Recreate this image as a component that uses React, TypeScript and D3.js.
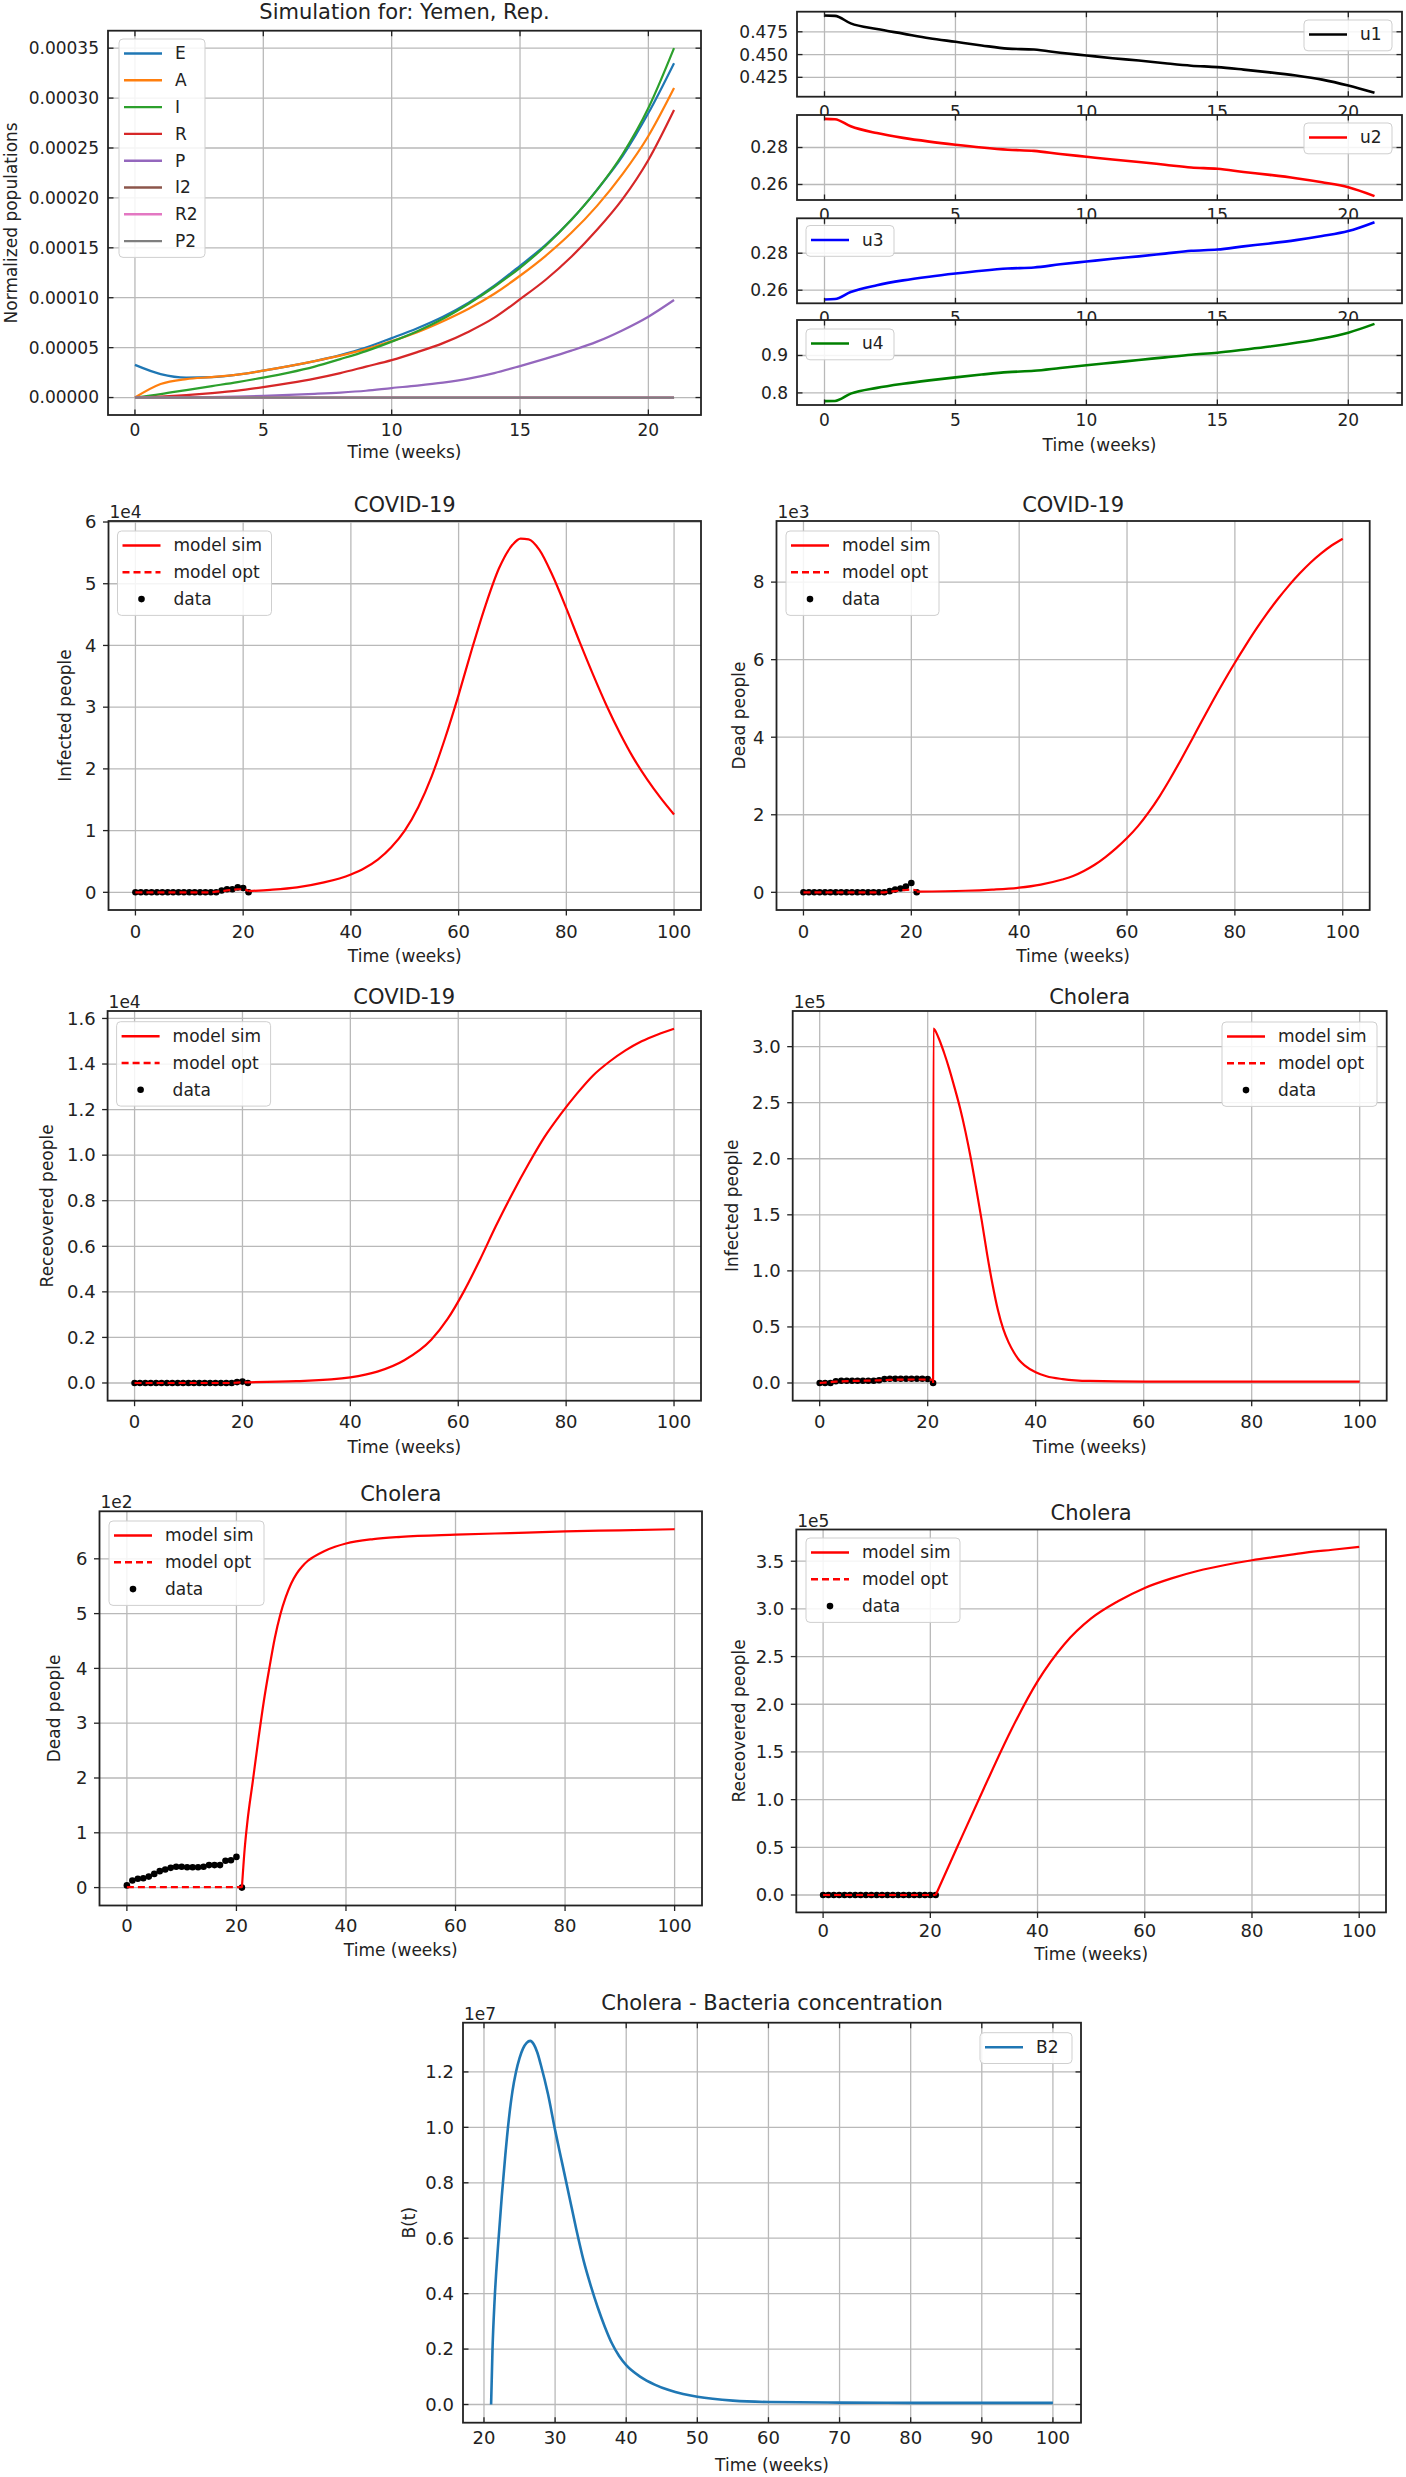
import React from "react";
import * as d3 from "d3";

// ---------------- DATA ----------------
const weeks = [0, 1, 2, 3, 4, 5, 6, 7, 8, 9, 10, 11, 12, 13, 14, 15, 16, 17, 18, 19, 20, 21];

// Panel 1: normalized populations (Yemen)
const popNames = ["E", "A", "I", "R", "P", "I2", "R2", "P2"];
const popColors = ["#1f77b4", "#ff7f0e", "#2ca02c", "#d62728", "#9467bd", "#8c564b", "#e377c2", "#7f7f7f"];
const popE = [3.27e-5, 2.35e-5, 2.0e-5, 2.05e-5, 2.3e-5, 2.7e-5, 3.15e-5, 3.65e-5, 4.25e-5, 5.0e-5, 5.95e-5, 6.95e-5, 8.1e-5, 9.5e-5, 11.2e-5, 13.2e-5, 15.3e-5, 17.8e-5, 20.8e-5, 24.2e-5, 28.5e-5, 33.5e-5];
const popA = [0, 1.35e-5, 1.85e-5, 2.05e-5, 2.3e-5, 2.7e-5, 3.15e-5, 3.65e-5, 4.2e-5, 4.85e-5, 5.65e-5, 6.55e-5, 7.65e-5, 8.9e-5, 10.4e-5, 12.2e-5, 14.2e-5, 16.5e-5, 19.2e-5, 22.4e-5, 26.2e-5, 31.0e-5];
const popI = [0, 0.35e-5, 0.75e-5, 1.15e-5, 1.55e-5, 2.0e-5, 2.5e-5, 3.1e-5, 3.85e-5, 4.65e-5, 5.6e-5, 6.65e-5, 7.9e-5, 9.4e-5, 11.1e-5, 13.0e-5, 15.2e-5, 17.8e-5, 20.8e-5, 24.4e-5, 29.0e-5, 35.0e-5];
const popR = [0, 0.1e-5, 0.25e-5, 0.45e-5, 0.7e-5, 1.05e-5, 1.45e-5, 1.9e-5, 2.45e-5, 3.1e-5, 3.75e-5, 4.55e-5, 5.45e-5, 6.6e-5, 8.0e-5, 9.85e-5, 11.8e-5, 14.1e-5, 16.8e-5, 19.9e-5, 23.8e-5, 28.8e-5];
const popP = [0, 0.005e-5, 0.02e-5, 0.05e-5, 0.1e-5, 0.17e-5, 0.26e-5, 0.37e-5, 0.5e-5, 0.68e-5, 0.95e-5, 1.2e-5, 1.5e-5, 1.9e-5, 2.45e-5, 3.15e-5, 3.9e-5, 4.7e-5, 5.6e-5, 6.75e-5, 8.1e-5, 9.77e-5];
const popI2 = [0, 0, 0, 0, 0, 0, 0, 0, 0, 0, 0, 0, 0, 0, 0, 0, 0, 0, 0, 0, 0, 0];
const popR2 = [0, 0, 0, 0, 0, 0, 0, 0, 0, 0, 0, 0, 0, 0, 0, 0, 0, 0, 0, 0, 0, 0];
const popP2 = [0, 0, 0, 0, 0, 0, 0, 0, 0, 0, 0, 0, 0, 0, 0, 0, 0, 0, 0, 0, 0, 0];
const popTicksY = [0, 0.00005, 0.0001, 0.00015, 0.0002, 0.00025, 0.0003, 0.00035];
const shortTicksX = [0, 5, 10, 15, 20];

// Panel 2: controls u1..u4
const uT = [0, 0.4, 1, 2, 3, 4, 5, 6, 7, 8, 9, 10, 11, 12, 13, 14, 15, 16, 17, 18, 19, 20, 21];
const u1 = [0.4928, 0.4925, 0.4842, 0.478, 0.473, 0.468, 0.464, 0.46, 0.4565, 0.4555, 0.452, 0.449, 0.446, 0.4435, 0.4405, 0.4378, 0.4362, 0.4335, 0.4305, 0.427, 0.4225, 0.416, 0.408];
const u2 = [0.2955, 0.2953, 0.2915, 0.2878, 0.2852, 0.2832, 0.2815, 0.28, 0.2788, 0.2782, 0.2765, 0.275, 0.2735, 0.2722, 0.2707, 0.2692, 0.2685, 0.2668, 0.2652, 0.2634, 0.2612, 0.2585, 0.2537];
const u3 = [0.255, 0.2552, 0.259, 0.2627, 0.2653, 0.2673, 0.269, 0.2705, 0.2717, 0.2723, 0.274, 0.2755, 0.277, 0.2783, 0.2798, 0.2813, 0.282, 0.2837, 0.2853, 0.2871, 0.2893, 0.292, 0.2968];
const u4 = [0.778, 0.7785, 0.798, 0.8135, 0.8245, 0.8335, 0.8415, 0.849, 0.8555, 0.859, 0.8665, 0.874, 0.881, 0.888, 0.895, 0.902, 0.9075, 0.9155, 0.924, 0.934, 0.9455, 0.961, 0.9845];
const u1Ticks = [0.425, 0.45, 0.475];
const u2Ticks = [0.26, 0.28];
const u3Ticks = [0.26, 0.28];
const u4Ticks = [0.8, 0.9];

// Long-horizon axes
const longTicksX = [0, 20, 40, 60, 80, 100];
const bactTicksX = [20, 30, 40, 50, 60, 70, 80, 90, 100];

// COVID-19 infected (x1e4)
const covInfSimT = [21, 25, 30, 35, 40, 42.5, 45, 47.5, 50, 52.5, 55, 57.5, 60, 62.5, 65, 67.5, 70, 71.5, 73, 75, 77.5, 80, 82.5, 85, 87.5, 90, 92.5, 95, 97.5, 100];
const covInfSimV = [0.02, 0.04, 0.08, 0.16, 0.29, 0.39, 0.53, 0.73, 1.0, 1.38, 1.88, 2.5, 3.2, 3.95, 4.65, 5.25, 5.63, 5.73, 5.72, 5.55, 5.12, 4.6, 4.05, 3.52, 3.02, 2.57, 2.17, 1.83, 1.53, 1.26];
const covInfOpt = [0, 0, 0, 0, 0, 0, 0, 0, 0, 0, 0, 0, 0, 0, 0, 0.01, 0.02, 0.03, 0.04, 0.05, 0.05, 0.02];
const covInfData = [0, 0, 0, 0, 0, 0, 0, 0, 0, 0, 0, 0, 0, 0, 0, 0, 0.03, 0.05, 0.05, 0.08, 0.07, 0];
const covInfTicksY = [0, 1, 2, 3, 4, 5, 6];

// COVID-19 dead (x1e3)
const covDeadSimT = [21, 30, 35, 40, 44, 48, 50, 52, 54, 56, 58, 60, 62, 64, 66, 68, 70, 72, 74, 76, 78, 80, 82, 84, 86, 88, 90, 92, 94, 96, 98, 100];
const covDeadSimV = [0.02, 0.04, 0.07, 0.12, 0.2, 0.33, 0.42, 0.55, 0.71, 0.91, 1.14, 1.4, 1.7, 2.06, 2.47, 2.93, 3.42, 3.93, 4.45, 4.96, 5.45, 5.92, 6.37, 6.8, 7.2, 7.57, 7.91, 8.22, 8.5, 8.74, 8.95, 9.12];
const covDeadOpt = [0, 0, 0, 0, 0, 0, 0, 0, 0, 0, 0, 0, 0, 0, 0, 0, 0.02, 0.03, 0.05, 0.06, 0.07, 0.05];
const covDeadData = [0, 0, 0, 0, 0, 0, 0, 0, 0, 0, 0, 0, 0, 0, 0, 0, 0.03, 0.07, 0.1, 0.15, 0.24, 0];
const covDeadTicksY = [0, 2, 4, 6, 8];

// COVID-19 recovered (x1e4)
const covRecSimT = [21, 30, 40, 45, 50, 55, 58, 61, 64, 67, 70, 73, 76, 79, 82, 85, 88, 91, 94, 97, 100];
const covRecSimV = [0.003, 0.008, 0.025, 0.05, 0.1, 0.19, 0.28, 0.4, 0.54, 0.69, 0.83, 0.96, 1.08, 1.18, 1.27, 1.35, 1.41, 1.46, 1.5, 1.53, 1.555];
const covRecOpt = [0, 0, 0, 0, 0, 0, 0, 0, 0, 0, 0, 0, 0, 0, 0, 0, 0, 0, 0, 0.002, 0.003, 0.003];
const covRecData = [0, 0, 0, 0, 0, 0, 0, 0, 0, 0, 0, 0, 0, 0, 0, 0, 0, 0, 0, 0.004, 0.006, 0];
const covRecTicksY = [0, 0.2, 0.4, 0.6, 0.8, 1.0, 1.2, 1.4, 1.6];

// Cholera infected (x1e5)
const chInfSimT = [21, 21.05, 22, 23, 24, 25, 26, 27, 28, 29, 30, 31, 32, 33, 34, 35, 36, 37, 38, 40, 42, 45, 50, 60, 80, 100];
const chInfSimV = [0, 3.16, 3.08, 2.95, 2.8, 2.63, 2.45, 2.24, 2.0, 1.73, 1.45, 1.15, 0.88, 0.65, 0.48, 0.36, 0.27, 0.2, 0.155, 0.095, 0.06, 0.035, 0.018, 0.012, 0.012, 0.012];
const chInfOpt = [0, 0.004, 0.008, 0.012, 0.015, 0.017, 0.018, 0.019, 0.02, 0.021, 0.022, 0.024, 0.026, 0.028, 0.029, 0.03, 0.03, 0.031, 0.031, 0.031, 0.03, 0.03];
const chInfData = [0, 0, 0, 0.015, 0.02, 0.02, 0.02, 0.02, 0.02, 0.02, 0.02, 0.025, 0.035, 0.038, 0.038, 0.038, 0.038, 0.038, 0.038, 0.038, 0.035, 0];
const chInfTicksY = [0, 0.5, 1.0, 1.5, 2.0, 2.5, 3.0];

// Cholera dead (x1e2)
const chDeadSimT = [21, 21.5, 22, 23, 24, 25, 26, 27, 28, 29, 30, 31, 32, 33, 34, 36, 38, 40, 45, 50, 60, 70, 80, 90, 100];
const chDeadSimV = [0, 0.7, 1.2, 1.95, 2.7, 3.4, 4.0, 4.55, 4.98, 5.3, 5.55, 5.73, 5.86, 5.96, 6.03, 6.14, 6.22, 6.28, 6.36, 6.4, 6.44, 6.47, 6.5, 6.52, 6.54];
const chDeadOpt = [0.01, 0.01, 0.01, 0.01, 0.01, 0.01, 0.01, 0.01, 0.01, 0.01, 0.01, 0.01, 0.01, 0.01, 0.01, 0.01, 0.01, 0.01, 0.01, 0.01, 0.01, 0.01];
const chDeadData = [0.04, 0.13, 0.16, 0.17, 0.2, 0.25, 0.3, 0.33, 0.36, 0.38, 0.38, 0.37, 0.37, 0.37, 0.38, 0.41, 0.41, 0.41, 0.49, 0.5, 0.56, 0];
const chDeadTicksY = [0, 1, 2, 3, 4, 5, 6];

// Cholera recovered (x1e5)
const chRecSimT = [21, 25, 30, 35, 40, 45, 50, 55, 60, 65, 70, 75, 80, 85, 90, 95, 100];
const chRecSimV = [0, 0.5, 1.12, 1.72, 2.24, 2.63, 2.9, 3.08, 3.22, 3.32, 3.4, 3.46, 3.51, 3.55, 3.59, 3.62, 3.65];
const chRecOpt = [0, 0, 0, 0, 0, 0, 0, 0, 0, 0, 0, 0, 0, 0, 0, 0, 0, 0, 0, 0, 0, 0];
const chRecData = [0, 0, 0, 0, 0, 0, 0, 0, 0, 0, 0, 0, 0, 0, 0, 0, 0, 0, 0, 0, 0, 0];
const chRecTicksY = [0, 0.5, 1.0, 1.5, 2.0, 2.5, 3.0, 3.5];

// Cholera bacteria concentration B2 (x1e7)
const bactT = [21, 21.2, 21.5, 22, 22.5, 23, 23.5, 24, 24.5, 25, 25.5, 26, 26.5, 27, 27.5, 28, 29, 30, 31, 32, 33, 34, 35, 36, 37, 38, 39, 40, 42, 44, 46, 48, 50, 55, 60, 70, 80, 90, 100];
const bactV = [0, 0.2, 0.38, 0.58, 0.75, 0.9, 1.03, 1.13, 1.2, 1.25, 1.285, 1.305, 1.312, 1.3, 1.27, 1.225, 1.12, 0.99, 0.87, 0.75, 0.63, 0.52, 0.43, 0.35, 0.28, 0.22, 0.175, 0.142, 0.1, 0.072, 0.052, 0.038, 0.028, 0.014, 0.009, 0.007, 0.006, 0.006, 0.006];
const bactTicksY = [0, 0.2, 0.4, 0.6, 0.8, 1.0, 1.2];

// ---------------- RENDERING ----------------
const FONT = "DejaVu Sans, sans-serif";
const INK = "#222";
const GRID = "#b9b9b9";
const RED = "#f00";

type Kind = "line" | "dash" | "dots";
type Series = { xs: number[]; ys: number[]; color: string; kind: Kind; width?: number };
type LegendItem = { label: string; color: string; kind: Kind; width?: number };
type Box = { l: number; r: number; t: number; b: number };
type PanelProps = {
  id: string;
  box: Box;
  xDomain: [number, number];
  xTicks: number[];
  yTicks: number[];
  yFmt: (v: number) => string;
  inward: boolean;
  series: Series[];
  title?: string;
  titleY?: number;
  expLabel?: string;
  yLabel?: string;
  yLabelX?: number;
  xLabelY?: number;
  xTickY: number;
  tickFont: number;
  legend?: { x: number; y: number; w: number; items: LegendItem[] };
};

function padExtent(series: Series[]): [number, number] {
  const all: number[] = [];
  series.forEach((s) => s.ys.forEach((v) => all.push(v)));
  const lo = d3.min(all) as number;
  const hi = d3.max(all) as number;
  const m = (hi - lo) * 0.05;
  return [lo - m, hi + m];
}

function Legend({ x, y, w, items }: { x: number; y: number; w: number; items: LegendItem[] }) {
  const step = 26.8;
  const h = items.length * step + 4;
  return (
    <g>
      <rect x={x} y={y} width={w} height={h} rx={4} fill="#fff" fillOpacity={0.85} stroke="#cfcfcf" strokeWidth={1} />
      {items.map((it, i) => {
        const cy = y + 14.5 + i * step;
        return (
          <g key={it.label}>
            {it.kind === "dots" ? (
              <circle cx={x + 24} cy={cy} r={3.3} fill="#000" />
            ) : (
              <line x1={x + 5} x2={x + 43} y1={cy} y2={cy} stroke={it.color} strokeWidth={it.width ?? 2.4}
                strokeDasharray={it.kind === "dash" ? "7,4" : undefined} />
            )}
            <text x={x + 56} y={cy} dy="0.35em" fontSize={17} fontFamily={FONT} fill={INK}>{it.label}</text>
          </g>
        );
      })}
    </g>
  );
}

function Panel(p: PanelProps) {
  const { l, r, t, b } = p.box;
  const yDomain = padExtent(p.series);
  const x = d3.scaleLinear().domain(p.xDomain).range([l, r]);
  const y = d3.scaleLinear().domain(yDomain).range([b, t]);
  const lineGen = d3
    .line<[number, number]>()
    .x((d) => x(d[0]))
    .y((d) => y(d[1]))
    .curve(d3.curveMonotoneX);
  const tl = 5.5;
  const dots = p.series.filter((s) => s.kind === "dots");
  const lines = p.series.filter((s) => s.kind !== "dots");
  const yLabX = l - (p.inward ? 9 : 12);
  return (
    <g>
      <defs>
        <clipPath id={p.id}>
          <rect x={l} y={t} width={r - l} height={b - t} />
        </clipPath>
      </defs>
      <rect x={l} y={t} width={r - l} height={b - t} fill="#fff" />
      {p.xTicks.map((v) => (
        <line key={"gx" + v} x1={x(v)} x2={x(v)} y1={t} y2={b} stroke={GRID} strokeWidth={1.3} />
      ))}
      {p.yTicks.map((v) => (
        <line key={"gy" + v} x1={l} x2={r} y1={y(v)} y2={y(v)} stroke={GRID} strokeWidth={1.3} />
      ))}
      <g clipPath={`url(#${p.id})`}>
        {dots.map((s, si) =>
          s.xs.map((xv, i) => <circle key={`d${si}-${i}`} cx={x(xv)} cy={y(s.ys[i])} r={3.3} fill={s.color} />)
        )}
        {lines.map((s, si) => (
          <path key={"l" + si}
            d={lineGen(s.xs.map((xv, i) => [xv, s.ys[i]] as [number, number])) ?? ""}
            fill="none" stroke={s.color} strokeWidth={s.width ?? 2.2}
            strokeDasharray={s.kind === "dash" ? "7,4" : undefined} strokeLinejoin="round" />
        ))}
      </g>
      <rect x={l} y={t} width={r - l} height={b - t} fill="none" stroke={INK} strokeWidth={1.8} />
      {p.xTicks.map((v) => (
        <g key={"tx" + v}>
          <line x1={x(v)} x2={x(v)} y1={b} y2={p.inward ? b - tl : b + tl} stroke={INK} strokeWidth={1.3} />
          {p.inward && <line x1={x(v)} x2={x(v)} y1={t} y2={t + tl} stroke={INK} strokeWidth={1.3} />}
          <text x={x(v)} y={p.xTickY} dy="0.35em" textAnchor="middle" fontSize={p.tickFont} fontFamily={FONT} fill={INK}>
            {String(v)}
          </text>
        </g>
      ))}
      {p.yTicks.map((v) => (
        <g key={"ty" + v}>
          <line x1={l} x2={p.inward ? l + tl : l - tl} y1={y(v)} y2={y(v)} stroke={INK} strokeWidth={1.3} />
          {p.inward && <line x1={r} x2={r - tl} y1={y(v)} y2={y(v)} stroke={INK} strokeWidth={1.3} />}
          <text x={yLabX} y={y(v)} dy="0.35em" textAnchor="end" fontSize={p.tickFont} fontFamily={FONT} fill={INK}>
            {p.yFmt(v)}
          </text>
        </g>
      ))}
      {p.legend && <Legend {...p.legend} />}
      {p.title && (
        <text x={(l + r) / 2} y={p.titleY} dy="0.35em" textAnchor="middle" fontSize={21} fontFamily={FONT} fill={INK}>
          {p.title}
        </text>
      )}
      {p.expLabel && (
        <text x={l + 1} y={t - 3} fontSize={17} fontFamily={FONT} fill={INK}>
          {p.expLabel}
        </text>
      )}
      {p.yLabel && (
        <text transform={`translate(${p.yLabelX},${(t + b) / 2}) rotate(-90)`} dy="0.35em" textAnchor="middle"
          fontSize={17} fontFamily={FONT} fill={INK}>
          {p.yLabel}
        </text>
      )}
      {p.xLabelY !== undefined && (
        <text x={(l + r) / 2} y={p.xLabelY} dy="0.35em" textAnchor="middle" fontSize={17} fontFamily={FONT} fill={INK}>
          Time (weeks)
        </text>
      )}
    </g>
  );
}

const modelLegend: LegendItem[] = [
  { label: "model sim", color: RED, kind: "line" },
  { label: "model opt", color: RED, kind: "dash" },
  { label: "data", color: "#000", kind: "dots" },
];

function modelSeries(simT: number[], simV: number[], opt: number[], data: number[]): Series[] {
  return [
    { xs: weeks, ys: data, color: "#000", kind: "dots" },
    { xs: simT, ys: simV, color: RED, kind: "line" },
    { xs: weeks, ys: opt, color: RED, kind: "dash" },
  ];
}

const fmt5 = d3.format(".5f");
const fmt3 = d3.format(".3f");
const fmt2 = d3.format(".2f");
const fmt1 = d3.format(".1f");
const fmt0 = d3.format("d");

export default function App() {
  const popSeries: Series[] = [popE, popA, popI, popR, popP, popI2, popR2, popP2].map((ys, i) => ({
    xs: weeks, ys, color: popColors[i], kind: "line" as Kind, width: 2.2,
  }));
  const uX: [number, number] = [-1.05, 22.05];
  const uBoxes: Box[] = [
    { l: 797, r: 1402, t: 11.7, b: 96.7 },
    { l: 797, r: 1402, t: 115, b: 200 },
    { l: 797, r: 1402, t: 218.3, b: 303.3 },
    { l: 797, r: 1402, t: 320, b: 405 },
  ];
  const uData = [u1, u2, u3, u4];
  const uColors = ["#000", "#f00", "#0000ff", "#008000"];
  const uTicks = [u1Ticks, u2Ticks, u3Ticks, u4Ticks];
  const uFmts = [fmt3, fmt2, fmt2, fmt1];
  const uLegendPos = [
    { x: 1304, y: 20 },
    { x: 1304, y: 123 },
    { x: 806, y: 225.5 },
    { x: 806, y: 329 },
  ];

  return (
    <svg width={1406} height={2477} style={{ position: "absolute", left: 0, top: 0, background: "#fff" }}>
      <rect x={0} y={0} width={1406} height={2477} fill="#fff" />
      <Panel id="c1" box={{ l: 108, r: 701, t: 30.7, b: 415 }} xDomain={[-1.05, 22.05]} xTicks={shortTicksX}
        yTicks={popTicksY} yFmt={fmt5} inward series={popSeries} title="Simulation for: Yemen, Rep." titleY={12}
        yLabel="Normalized populations" yLabelX={11} xLabelY={452} xTickY={430} tickFont={17}
        legend={{ x: 119, y: 39, w: 86, items: popNames.map((n, i) => ({ label: n, color: popColors[i], kind: "line" as Kind })) }} />
      {uBoxes.map((bx, i) => (
        <Panel key={"u" + i} id={"cu" + i} box={bx} xDomain={uX} xTicks={shortTicksX} yTicks={uTicks[i]} yFmt={uFmts[i]}
          inward series={[{ xs: uT, ys: uData[i], color: uColors[i], kind: "line", width: 2.6 }]}
          xTickY={bx.b + 15} xLabelY={i === 3 ? 445 : undefined} tickFont={17}
          legend={{ x: uLegendPos[i].x, y: uLegendPos[i].y, w: 88, items: [{ label: "u" + (i + 1), color: uColors[i], kind: "line", width: 2.6 }] }} />
      ))}
      <Panel id="c3" box={{ l: 108.5, r: 701, t: 521, b: 910 }} xDomain={[-5, 105]} xTicks={longTicksX}
        yTicks={covInfTicksY} yFmt={fmt0} inward={false}
        series={modelSeries(covInfSimT, covInfSimV, covInfOpt, covInfData)} title="COVID-19" titleY={505}
        expLabel="1e4" yLabel="Infected people" yLabelX={65} xLabelY={956} xTickY={932} tickFont={18}
        legend={{ x: 117.5, y: 531, w: 154, items: modelLegend }} />
      <Panel id="c4" box={{ l: 776.5, r: 1369.7, t: 521, b: 910 }} xDomain={[-5, 105]} xTicks={longTicksX}
        yTicks={covDeadTicksY} yFmt={fmt0} inward={false}
        series={modelSeries(covDeadSimT, covDeadSimV, covDeadOpt, covDeadData)} title="COVID-19" titleY={505}
        expLabel="1e3" yLabel="Dead people" yLabelX={739} xLabelY={956} xTickY={932} tickFont={18}
        legend={{ x: 786, y: 531, w: 153, items: modelLegend }} />
      <Panel id="c5" box={{ l: 107.6, r: 701, t: 1011, b: 1400.7 }} xDomain={[-5, 105]} xTicks={longTicksX}
        yTicks={covRecTicksY} yFmt={fmt1} inward={false}
        series={modelSeries(covRecSimT, covRecSimV, covRecOpt, covRecData)} title="COVID-19" titleY={996.7}
        expLabel="1e4" yLabel="Receovered people" yLabelX={47} xLabelY={1447} xTickY={1422} tickFont={18}
        legend={{ x: 116.6, y: 1021.7, w: 154, items: modelLegend }} />
      <Panel id="c6" box={{ l: 792.7, r: 1386.7, t: 1011, b: 1400.7 }} xDomain={[-5, 105]} xTicks={longTicksX}
        yTicks={chInfTicksY} yFmt={fmt1} inward={false}
        series={modelSeries(chInfSimT, chInfSimV, chInfOpt, chInfData)} title="Cholera" titleY={996.7}
        expLabel="1e5" yLabel="Infected people" yLabelX={732} xLabelY={1447} xTickY={1422} tickFont={18}
        legend={{ x: 1222, y: 1022, w: 155, items: modelLegend }} />
      <Panel id="c7" box={{ l: 99.5, r: 702, t: 1511.3, b: 1905.5 }} xDomain={[-5, 105]} xTicks={longTicksX}
        yTicks={chDeadTicksY} yFmt={fmt0} inward={false}
        series={modelSeries(chDeadSimT, chDeadSimV, chDeadOpt, chDeadData)} title="Cholera" titleY={1494}
        expLabel="1e2" yLabel="Dead people" yLabelX={54} xLabelY={1950} xTickY={1926} tickFont={18}
        legend={{ x: 109, y: 1521, w: 155, items: modelLegend }} />
      <Panel id="c8" box={{ l: 796.3, r: 1386, t: 1529.5, b: 1912.4 }} xDomain={[-5, 105]} xTicks={longTicksX}
        yTicks={chRecTicksY} yFmt={fmt1} inward={false}
        series={modelSeries(chRecSimT, chRecSimV, chRecOpt, chRecData)} title="Cholera" titleY={1512.3}
        expLabel="1e5" yLabel="Receovered people" yLabelX={739} xLabelY={1953.7} xTickY={1931} tickFont={18}
        legend={{ x: 806, y: 1538, w: 154, items: modelLegend }} />
      <Panel id="c9" box={{ l: 463, r: 1081, t: 2022.7, b: 2422.7 }} xDomain={[17.05, 103.95]} xTicks={bactTicksX}
        yTicks={bactTicksY} yFmt={fmt1} inward
        series={[{ xs: bactT, ys: bactV, color: "#1f77b4", kind: "line", width: 2.6 }]}
        title="Cholera - Bacteria concentration" titleY={2003} expLabel="1e7" yLabel="B(t)" yLabelX={409.5}
        xLabelY={2465} xTickY={2438} tickFont={18}
        legend={{ x: 980, y: 2032.7, w: 92, items: [{ label: "B2", color: "#1f77b4", kind: "line", width: 2.6 }] }} />
    </svg>
  );
}
